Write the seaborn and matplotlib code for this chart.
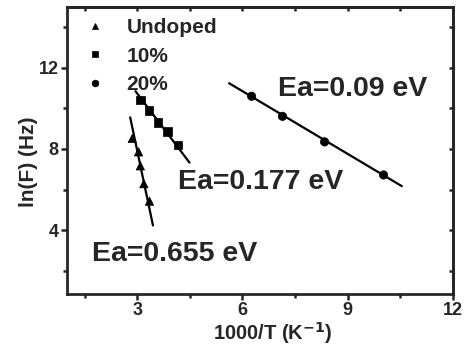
"""Arrhenius plot of ln(F) vs 1000/T for undoped, 10% and 20% samples."""

import pandas as pd
import seaborn as sns
import matplotlib.pyplot as plt
from matplotlib.ticker import MultipleLocator

OUTPUT_FILE = "out.png"
SAMPLES = ["Undoped", "10%", "20%"]
MARKERS = {"Undoped": "^", "10%": "s", "20%": "o"}

UNDOPED_X = [2.86, 3.04, 3.09, 3.19, 3.35]
UNDOPED_Y = [8.52, 7.86, 7.17, 6.29, 5.43]
DOPED10_X = [3.09, 3.33, 3.59, 3.86, 4.16]
DOPED10_Y = [10.43, 9.89, 9.31, 8.87, 8.19]
DOPED20_X = [6.26, 7.14, 8.34, 10.02]
DOPED20_Y = [10.60, 9.61, 8.35, 6.72]

# linear fit lines (end points)
FIT_UNDOPED_X = [2.80, 3.45]
FIT_UNDOPED_Y = [9.56, 4.23]
FIT_10_X = [2.95, 4.49]
FIT_10_Y = [10.85, 7.33]
FIT_20_X = [5.62, 10.54]
FIT_20_Y = [11.24, 6.17]

EA_LABELS = ["Ea=0.655 eV", "Ea=0.177 eV", "Ea=0.09 eV"]
EA_POS = [(1.7, 2.8), (4.15, 6.35), (7.0, 10.95)]


def plot_arrhenius():
    df = pd.concat([
        pd.DataFrame({"x": UNDOPED_X, "y": UNDOPED_Y, "Sample": "Undoped"}),
        pd.DataFrame({"x": DOPED10_X, "y": DOPED10_Y, "Sample": "10%"}),
        pd.DataFrame({"x": DOPED20_X, "y": DOPED20_Y, "Sample": "20%"}),
    ], ignore_index=True)

    sns.set_theme(style="ticks")
    plt.rcParams['font.family'] = ['Liberation Sans', 'DejaVu Sans']
    plt.rcParams['font.weight'] = 'bold'

    fig = plt.figure(figsize=(4.69, 3.48), dpi=100)
    ax = fig.add_axes([0.1429, 0.155, 0.823, 0.825])

    for fx, fy in [(FIT_UNDOPED_X, FIT_UNDOPED_Y), (FIT_10_X, FIT_10_Y), (FIT_20_X, FIT_20_Y)]:
        sns.lineplot(x=fx, y=fy, color="black", linewidth=1.6, ax=ax)

    sns.scatterplot(data=df, x="x", y="y", style="Sample", style_order=SAMPLES,
                    markers=MARKERS, color="black", s=36, edgecolor="black",
                    linewidth=0.5, ax=ax, zorder=3)

    for txt, (tx, ty) in zip(EA_LABELS, EA_POS):
        ax.text(tx, ty, txt, fontsize=20.5, fontweight="bold", va="center")

    ax.set_xlim(1, 12)
    ax.set_ylim(0.85, 15)
    ax.xaxis.set_major_locator(MultipleLocator(3))
    ax.xaxis.set_minor_locator(MultipleLocator(1.5))
    ax.yaxis.set_major_locator(MultipleLocator(4))
    ax.yaxis.set_minor_locator(MultipleLocator(2))
    ax.tick_params(which="major", direction="out", length=4, width=1.8, labelsize=13, pad=2)
    ax.tick_params(which="minor", direction="out", length=3, width=1.8)
    for lab in ax.get_xticklabels() + ax.get_yticklabels():
        lab.set_fontweight("bold")
    for sp in ax.spines.values():
        sp.set_linewidth(2)

    # mirrored inward ticks on top/right
    top = ax.secondary_xaxis("top")
    top.xaxis.set_major_locator(MultipleLocator(3))
    top.xaxis.set_minor_locator(MultipleLocator(1.5))
    top.tick_params(which="both", direction="in", length=3, width=1.8, labeltop=False)
    right = ax.secondary_yaxis("right")
    right.yaxis.set_major_locator(MultipleLocator(4))
    right.yaxis.set_minor_locator(MultipleLocator(2))
    right.tick_params(which="both", direction="in", length=3, width=1.8, labelright=False)
    top.spines["top"].set_linewidth(2)
    right.spines["right"].set_linewidth(2)

    ax.set_xlabel("1000/T (K$^{\\mathbf{-1}}$)", fontsize=14.5, fontweight="bold")
    ax.set_ylabel("ln(F) (Hz)", fontsize=15, fontweight="bold")
    ax.xaxis.set_label_coords(0.534, -0.09)
    ax.yaxis.set_label_coords(-0.075, 0.46)

    handles, labels = ax.get_legend_handles_labels()
    ax.legend(handles, labels, loc="upper left", bbox_to_anchor=(0.035, 0.975),
              frameon=False, prop={"weight": "bold", "size": 15},
              handletextpad=1.0, labelspacing=0.45, borderaxespad=0,
              markerscale=0.8, handlelength=1.0, borderpad=0.2)

    fig.savefig(OUTPUT_FILE, dpi=100)


if __name__ == "__main__":
    plot_arrhenius()
